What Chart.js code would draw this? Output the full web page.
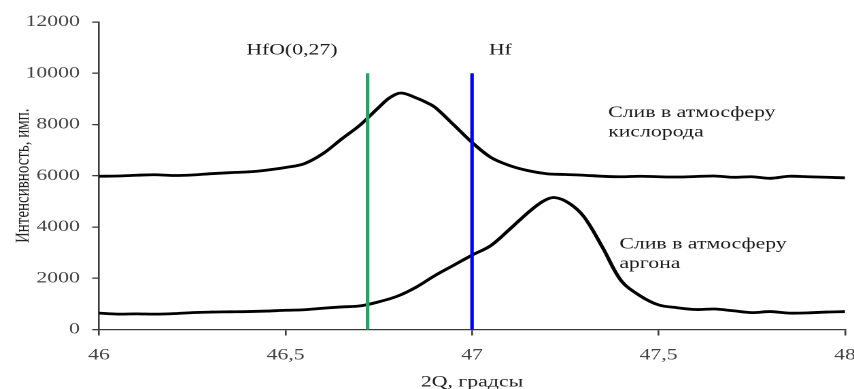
<!DOCTYPE html>
<html><head><meta charset="utf-8">
<script src="https://cdn.jsdelivr.net/npm/chart.js@4.4.0/dist/chart.umd.min.js"></script>
<style>
html,body{margin:0;padding:0;background:#fff;overflow:hidden;width:854px;height:389px}
#wrap{width:628px;height:389px;transform:scaleX(1.3599);transform-origin:0 0}
canvas{display:block}
</style></head><body>
<div id="wrap"><canvas id="c" width="628" height="389" style="width:628px;height:389px"></canvas></div>
<script>
// ---- data ----
const thetaOxygen = [46.00,46.05,46.10,46.15,46.20,46.25,46.30,46.35,46.40,46.45,46.50,46.55,46.60,46.65,46.70,46.75,46.78,46.81,46.85,46.875,46.90,46.95,47.00,47.05,47.10,47.15,47.20,47.25,47.30,47.35,47.40,47.45,47.50,47.55,47.60,47.65,47.70,47.75,47.80,47.85,47.90,47.95,48.00];
const oxygen = [5980,5990,6020,6040,6010,6030,6080,6120,6150,6220,6320,6470,6860,7430,7980,8670,9050,9230,9040,8880,8680,8000,7300,6720,6400,6200,6080,6050,6020,5980,5960,5980,5960,5950,5970,5990,5940,5960,5900,5980,5960,5940,5920];
const thetaArgon = [46.00,46.05,46.10,46.15,46.20,46.25,46.30,46.35,46.40,46.45,46.50,46.55,46.60,46.65,46.70,46.75,46.80,46.85,46.90,46.95,47.00,47.05,47.10,47.15,47.19,47.22,47.26,47.30,47.35,47.40,47.45,47.50,47.55,47.60,47.65,47.70,47.75,47.80,47.85,47.90,47.95,48.00];
const argon = [640,600,610,600,620,660,680,690,700,720,750,770,830,880,920,1080,1300,1650,2100,2500,2900,3270,3900,4560,5000,5150,4930,4400,3200,1900,1320,960,850,780,800,730,660,700,640,650,680,700];
const markerNames = ['HfO(0,27)', 'Hf'];
const markerTheta = [46.72, 47.0];
const markerTop = [10000, 10000];
const xTickValues = [46, 46.5, 47, 47.5, 48];
const yTickValues = [0, 2000, 4000, 6000, 8000, 10000, 12000];
const curveNotes = [['Слив в атмосферу', 'кислорода'], ['Слив в атмосферу', 'аргона']];

// ---- build ----
const FONT = '"Liberation Serif", "Times New Roman", serif';
const pts = (xs, ys) => xs.map((x, i) => ({x, y: ys[i]}));
const markerColors = ['#2f9e62', '#0000ff'];

const datasets = [];
markerTheta.forEach((t, i) => {
  datasets.push({label: markerNames[i], data: [{x: t, y: 0}, {x: t, y: markerTop[i]}],
    borderColor: markerColors[i], borderWidth: 2.6, pointRadius: 0, tension: 0, order: 0});
});
datasets.push({label: curveNotes[0].join(' '), data: pts(thetaOxygen, oxygen), borderColor: '#000', borderWidth: 2.8,
  pointRadius: 0, tension: 0.35, order: 1});
datasets.push({label: curveNotes[1].join(' '), data: pts(thetaArgon, argon), borderColor: '#000', borderWidth: 2.8,
  pointRadius: 0, tension: 0.35, order: 1});

// annotation placements (data coordinates)
const notePlaces = [
  {lines: [markerNames[0]], x: 46.517, y: 10890, align: 'center'},
  {lines: [markerNames[1]], x: 47.076, y: 10890, align: 'center'},
  {lines: curveNotes[0], x: 47.365, y: 8450, align: 'left'},
  {lines: curveNotes[1], x: 47.395, y: 3330, align: 'left'}
];

const notesPlugin = {
  id: 'notes',
  afterDraw(chart) {
    const {ctx, scales: {x, y}} = chart;
    ctx.save();
    ctx.font = '16px ' + FONT;
    ctx.fillStyle = '#1a1a1a';
    ctx.textBaseline = 'middle';
    notePlaces.forEach(n => {
      ctx.textAlign = n.align;
      n.lines.forEach((t, i) => ctx.fillText(t, x.getPixelForValue(n.x), y.getPixelForValue(n.y) + i * 19.5));
    });
    ctx.restore();
  }
};

new Chart(document.getElementById('c'), {
  type: 'line',
  data: {datasets},
  plugins: [notesPlugin],
  options: {
    responsive: false,
    animation: false,
    devicePixelRatio: 2,
    layout: {padding: {top: 22, right: 6.6, left: 0, bottom: 0}},
    plugins: {legend: {display: false}, tooltip: {enabled: false}},
    scales: {
      x: {
        type: 'linear', min: 46, max: 48,
        afterBuildTicks: s => { s.ticks = xTickValues.map(v => ({value: v})); },
        afterFit: s => { s.height = 59.5; s.paddingLeft = 0; s.paddingRight = 0; },
        border: {color: '#3a3a3a', width: 1.3},
        grid: {display: true, drawOnChartArea: false, drawTicks: true, tickLength: 6, color: '#3a3a3a', lineWidth: 1.3},
        ticks: {color: '#444', font: {family: FONT, size: 16}, padding: 10, maxRotation: 0,
          callback: v => String(v).replace('.', ',')},
        title: {display: true, text: '2Q, градсы', color: '#222', font: {family: FONT, size: 16}, padding: {top: 0, bottom: -3}}
      },
      y: {
        type: 'linear', min: 0, max: 12000,
        afterBuildTicks: s => { s.ticks = yTickValues.map(v => ({value: v})); },
        afterFit: s => { s.width = 72.8; s.paddingTop = 0; s.paddingBottom = 0; },
        border: {color: '#3a3a3a', width: 1.3},
        grid: {display: true, drawOnChartArea: false, drawTicks: true, tickLength: 5, color: '#3a3a3a', lineWidth: 1.3},
        ticks: {color: '#444', font: {family: FONT, size: 16}, padding: 9, callback: v => String(v)},
        title: {display: true, text: 'Интенсивность, имп.', color: '#222', font: {family: FONT, size: 15}, padding: {top: 8, bottom: 0}}
      }
    }
  }
});
</script></body></html>
